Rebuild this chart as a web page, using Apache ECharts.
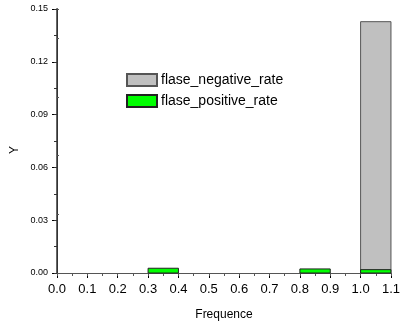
<!DOCTYPE html>
<html><head><meta charset="utf-8">
<script src="https://cdn.jsdelivr.net/npm/echarts@6/dist/echarts.min.js"></script>
<style>html,body{margin:0;padding:0;background:#fff}#c{width:403px;height:326px}</style>
</head><body><div id="c"></div>
<script>
const binLeft = [0.0,0.1,0.2,0.3,0.4,0.5,0.6,0.7,0.8,0.9,1.0];
const binWidth = 0.1;
const falseNegativeRate = [0,0,0,0,0,0,0,0,0,0,0.1428];
const falsePositiveRate = [0,0,0,0.0027,0,0,0,0,0.0023,0,0.0019];
const yTicks = ['0.00','0.03','0.06','0.09','0.12','0.15'];
const seriesNames = ['flase_negative_rate','flase_positive_rate'];

function toData(vals){
  const out=[];
  vals.forEach((v,i)=>{ if(v>0) out.push([binLeft[i], binLeft[i]+binWidth, v]); });
  return out;
}
function renderBar(params, api){
  const p0 = api.coord([api.value(0), api.value(2)]);
  const p1 = api.coord([api.value(1), 0]);
  return {type:'rect', shape:{x:p0[0], y:p0[1], width:p1[0]-p0[0], height:p1[1]-p0[1]},
    style: api.style()};
}
const font = 'Liberation Sans, Arial, sans-serif';
const chart = echarts.init(document.getElementById('c'), null, {renderer:'canvas'});
chart.setOption({
  animation:false,
  backgroundColor:'#fff',
  grid:{left:57, right:9, top:9, bottom:52},
  legend:{
    orient:'vertical', left:126, top:73, padding:0, itemWidth:30, itemHeight:12, itemGap:7,
    icon:'rect',
    textStyle:{fontFamily:font, fontSize:14, color:'#000', padding:[0,0,0,-1]},
    data:seriesNames
  },
  xAxis:[{
    type:'value', min:0, max:1.1, interval:0.1, position:'bottom',
    axisLine:{lineStyle:{color:'#000', width:1}},
    axisTick:{show:true, inside:false, length:5, lineStyle:{color:'#000'}},
    splitLine:{show:false},
    axisLabel:{fontFamily:font, fontSize:13, color:'#000', margin:10, showMaxLabel:true, showMinLabel:true,
      formatter:v=>v.toFixed(1)},
    name:'Frequence', nameLocation:'middle', nameGap:36,
    nameTextStyle:{fontFamily:font, fontSize:12, color:'#000'}
  },{
    type:'value', min:0, max:1.1, interval:0.05, position:'top',
    axisLine:{show:true, lineStyle:{color:'#555', width:1}},
    axisTick:{show:true, inside:true, length:3, lineStyle:{color:'#555'}},
    axisLabel:{show:false}, splitLine:{show:false}
  }],
  yAxis:[{
    type:'value', min:0, max:0.15, interval:0.03, position:'left',
    axisLine:{show:true, lineStyle:{color:'#666', width:2}},
    axisTick:{show:true, inside:false, length:5, lineStyle:{color:'#000'}},
    splitLine:{show:false},
    axisLabel:{fontFamily:font, fontSize:9, color:'#000', margin:9,
      formatter:(v)=>yTicks[Math.round(v/0.03)]}
  },{
    type:'value', min:0, max:0.15, interval:0.015, position:'right',
    axisLine:{show:true, lineStyle:{color:'#333', width:1}},
    axisTick:{show:true, inside:true, length:3, lineStyle:{color:'#333'}},
    axisLabel:{show:false}, splitLine:{show:false}
  },{
    type:'value', min:0.015, max:0.15, interval:0.03, position:'left',
    axisLine:{show:false},
    axisTick:{show:true, inside:true, length:2, lineStyle:{color:'#555'}},
    axisLabel:{show:false}, splitLine:{show:false}
  }],
  graphic:[{type:'text', left:9, top:146, rotation:Math.PI/2,
    style:{text:'Y', fontFamily:font, fontSize:12, fill:'#000'}}],
  series:[{
    name:seriesNames[0], type:'custom', renderItem:renderBar, xAxisIndex:0, yAxisIndex:0,
    encode:{x:[0,1], y:2},
    itemStyle:{color:'#c0c0c0', borderColor:'#555', borderWidth:1},
    data:toData(falseNegativeRate), z:2
  },{
    name:seriesNames[1], type:'custom', renderItem:renderBar, xAxisIndex:0, yAxisIndex:0,
    encode:{x:[0,1], y:2},
    itemStyle:{color:'#00ff00', borderColor:'#222', borderWidth:1},
    data:toData(falsePositiveRate), z:3
  }]
});
</script></body></html>
